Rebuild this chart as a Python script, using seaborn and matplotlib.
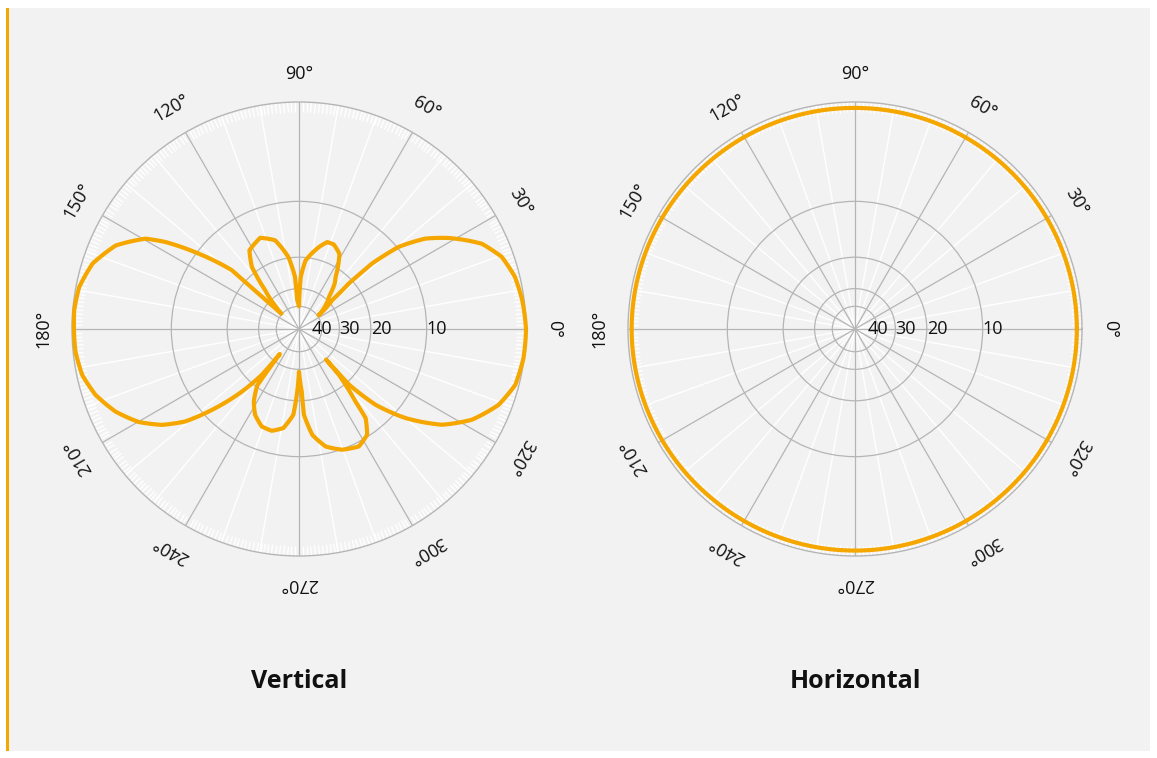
import numpy as np
import matplotlib
matplotlib.use('Agg')
import matplotlib.pyplot as plt
from matplotlib.patches import Rectangle
import matplotlib.transforms as mtransforms
import seaborn as sns

sns.set_theme(style='white')
plt.rcParams['font.family'] = ['Open Sans', 'DejaVu Sans']

# vertical pattern, in drawing order (angle in degrees, attenuation in dB)
v_angle = [0, 7.4, 13.6, 19.6, 25.0, 31.3, 35.6, 39.5, 41.9, 42.4, 41.0, 35.0,
           44.7, 47.1, 51.8, 54.9, 61.7, 67.6, 72.0, 76.3, 84.5, 88.1, 90.0,
           93.5, 94.4, 98.4, 105.1, 113.0, 122.2, 127.2, 131.1, 135.5, 139.0,
           138.8, 143.1, 146.9, 149.5, 155.5, 162.4, 169.2, 175.2, 180.0,
           185.8, 192.0, 197.9, 204.2, 210.1, 215.0, 219.1, 223.4, 227.6, 230.9, 232.5,
           233.5, 238.1, 242.9, 249.1, 255.0, 261.0, 266.2, 268.4, 270.0,
           272.5, 273.3, 277.2, 282.8, 289.7, 297.0, 302.8, 306.8, 307.9, 311.0, 311.5,
           312.0, 315.3, 320.1, 326.2, 332.3, 339.2, 345.5, 352.6, 360.0]
v_db = [0.0, 0.15, 0.38, 0.93, 2.05, 4.5, 6.6, 9.8, 14.6, 21.1, 28.5, 39.0,
        29.8, 28.5, 23.8, 22.1, 17.0, 15.8, 15.8, 17.2, 20.7, 25.6, 40.0,
        35.8, 25.5, 19.8, 15.7, 14.4, 15.5, 18.6, 25.8, 33.0, 39.5,
        16.2, 10.3, 6.16, 4.23, 2.08, 0.82, 0.25, 0.11, 0.15,
        0.18, 0.42, 1.03, 2.09, 3.52, 5.32, 7.6, 11.78, 17.1, 23.4, 34.3,
        20.4, 16.96, 14.88, 13.5, 13.33, 14.19, 16.86, 22.4, 29.0,
        22.36, 16.88, 13.1, 11.0, 9.92, 9.44, 10.25, 12.39, 15.69, 22.87, 29.8,
        19.25, 12.94, 8.55, 4.81, 2.62, 1.06, 0.28, 0.05, 0.0]

# horizontal pattern, nearly omnidirectional
h_angle = [0, 10, 20, 30, 40, 50, 60, 70, 80, 90, 100, 110, 120, 130, 140, 150, 160, 170,
           180, 190, 200, 210, 220, 230, 240, 250, 260, 270, 280, 290, 300, 310, 320, 330,
           340, 350, 360]
h_db = [0.40, 0.40, 0.41, 0.42, 0.43, 0.44, 0.45, 0.45, 0.46, 0.46, 0.45, 0.44, 0.42, 0.40,
        0.37, 0.34, 0.31, 0.29, 0.28, 0.29, 0.31, 0.34, 0.37, 0.40, 0.41, 0.42, 0.42, 0.42,
        0.42, 0.42, 0.41, 0.41, 0.40, 0.40, 0.40, 0.40, 0.40]

angle_ticks = [0, 30, 60, 90, 120, 150, 180, 210, 240, 270, 300, 330]
angle_labels = ['0°', '30°', '60°', '90°', '120°', '150°', '180°', '210°', '240°',
                '270°', '300°', '320°']
db_rings = [10, 20, 30, 40]

orange = '#f5a700'
grid_gray = '#b5b5b5'
panel = '#f2f2f2'


def to_r(db):
    # 0 dB on the outer ring, each 10 dB shrinks the radius by 10**0.25
    return 10 ** (-np.asarray(db, dtype=float) / 40)


W, H = 1157, 758
fig = plt.figure(figsize=(W / 100, H / 100), dpi=100)
fig.patch.set_facecolor('white')
fig.add_artist(Rectangle((6 / W, 1 - 751 / H), (1150 - 6) / W, (751 - 8) / H,
                         transform=fig.transFigure, facecolor=panel, edgecolor='none', zorder=-2))
fig.add_artist(Rectangle((6 / W, 1 - 751 / H), 3 / W, (751 - 8) / H,
                         transform=fig.transFigure, facecolor=orange, edgecolor='none', zorder=-1))


def polar_panel(cx, angles, dbs, title):
    R = 227
    ax = fig.add_axes([(cx - R) / W, 1 - (329 + R) / H, 2 * R / W, 2 * R / H], projection='polar')
    ax.set_facecolor(panel)
    ax.set_axisbelow(True)

    # white minor spokes every 10 degrees, under the grey grid
    minor = [a for a in range(0, 360, 10) if a % 30]
    ax.vlines(np.deg2rad(minor), 0, 1, colors='white', lw=1, zorder=0.3)

    sns.lineplot(x=np.deg2rad(angles), y=to_r(dbs), sort=False, estimator=None,
                 color=orange, lw=3.0, ax=ax, zorder=3)
    for ln in ax.lines:
        ln.set_clip_on(False)
        ln.set_solid_joinstyle('round')
        # let the polar transform bend each segment along the angle
        ln.get_path()._interpolation_steps = 30

    ax.set_ylim(0, 1)
    ax.set_xticks(np.deg2rad(angle_ticks))
    ax.set_xticks(np.deg2rad(np.arange(0, 360, 1)), minor=True)
    ax.set_xticklabels([])
    ax.set_yticks(to_r(db_rings))
    ax.set_yticklabels([])
    # fine white degree ticks just inside the outer ring
    ax.tick_params(axis='x', which='minor', bottom=False, top=True, direction='in',
                   length=7, width=1, color='white')
    ax.tick_params(axis='x', which='major', bottom=False, top=False, length=0)
    ax.tick_params(axis='y', length=0)
    ax.grid(True, color=grid_gray, lw=0.9)
    ax.xaxis.grid(True, which='minor', lw=0)
    ax.spines['polar'].set_color(grid_gray)
    ax.spines['polar'].set_linewidth(1)
    ax.set_xlabel('')
    ax.set_ylabel('')

    for a, lab in zip(angle_ticks, angle_labels):
        ax.text(np.deg2rad(a), 1.125, lab, rotation=a - 90, rotation_mode='anchor',
                ha='center', va='center', fontsize=13, color='#111111')

    for i, d in enumerate(db_rings):
        trans = ax.transData
        if i == len(db_rings) - 1:
            # innermost label pushed left so it does not run into the next one
            trans = ax.transData + mtransforms.ScaledTranslation(-10 / 100, 0, fig.dpi_scale_trans)
        ax.text(0, to_r(d), str(d), transform=trans, ha='left', va='center',
                fontsize=13, color='#111111', zorder=4)

    fig.text(cx / W, 1 - 681 / H, title, ha='center', va='center',
             fontsize=18, fontweight='bold', color='#111111')
    return ax


polar_panel(299, v_angle, v_db, 'Vertical')
polar_panel(855, h_angle, h_db, 'Horizontal')

fig.savefig('out.png', dpi=100)
